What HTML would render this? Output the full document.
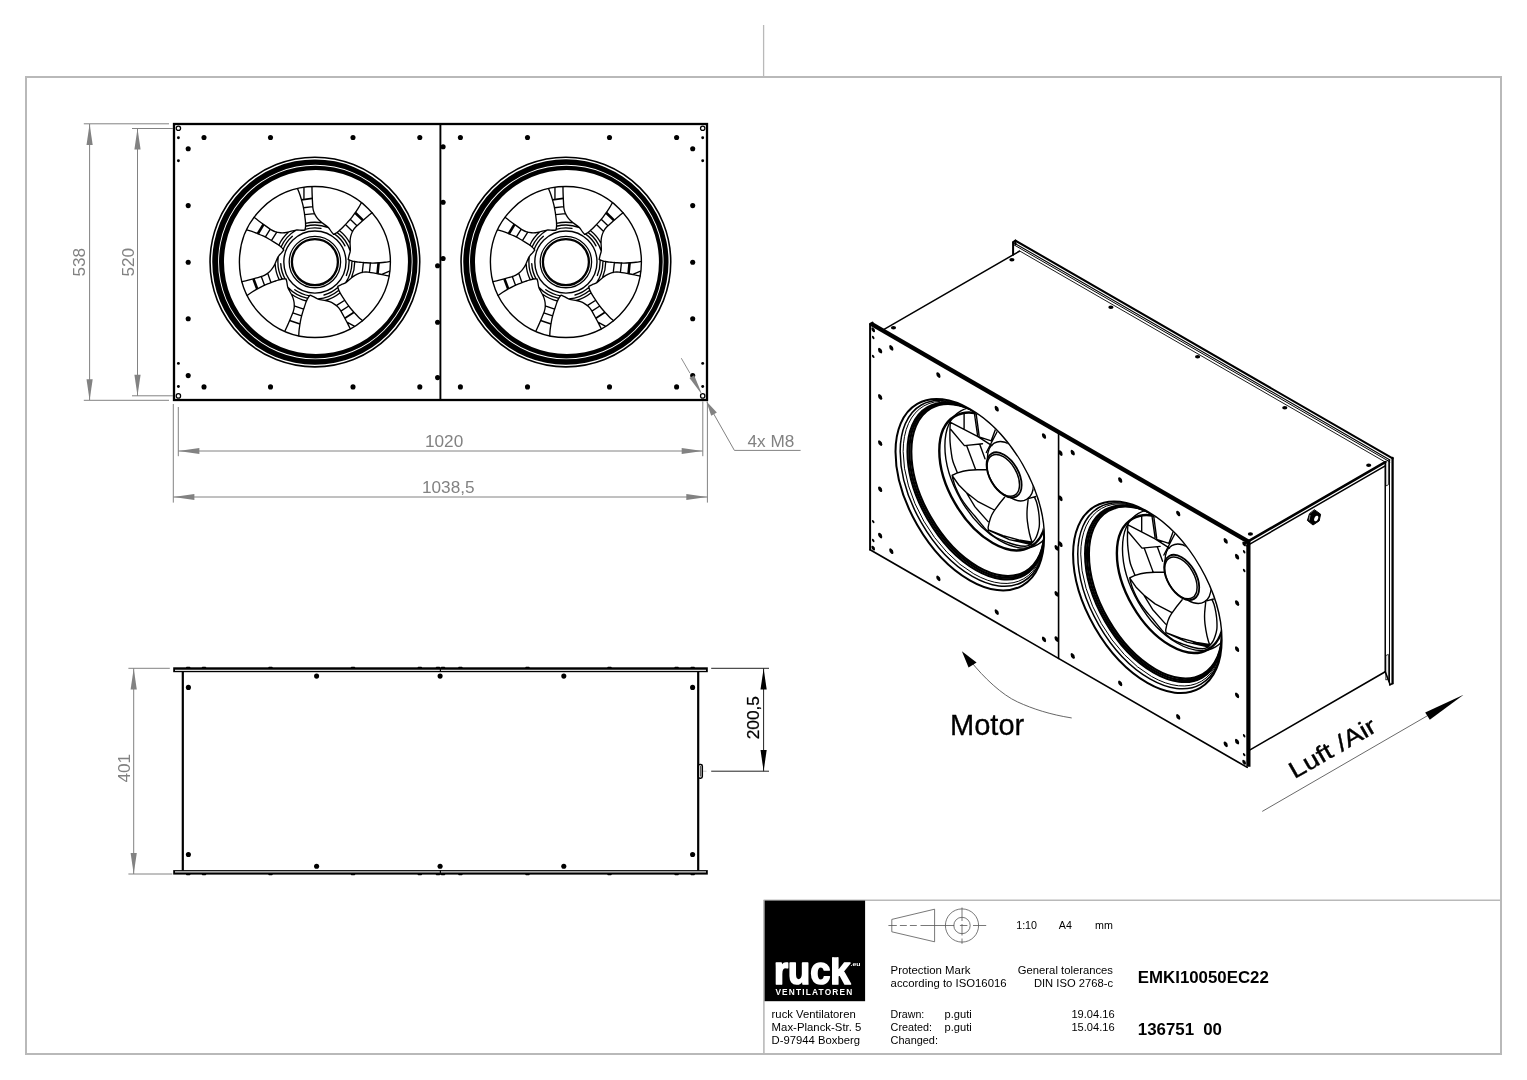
<!DOCTYPE html>
<html lang="de"><head><meta charset="utf-8"><title>EMKI10050EC22 - ruck Ventilatoren</title>
<style>
html,body{margin:0;padding:0;background:#fff;}
body{width:1527px;height:1080px;overflow:hidden;}
svg{display:block;will-change:transform;font-family:"Liberation Sans",sans-serif;}
</style></head><body>
<svg width="1527" height="1080" viewBox="0 0 1527 1080">
<rect width="1527" height="1080" fill="#fff"/>
<g id="frame">
<rect x="26" y="77" width="1475" height="977" fill="none" stroke="#b9b9b9" stroke-width="2"/>
<line x1="763.6" y1="25" x2="763.6" y2="77" stroke="#b9b9b9" stroke-width="1.3"/>
<line x1="763.6" y1="900.3" x2="1501" y2="900.3" stroke="#b9b9b9" stroke-width="1.6"/>
<line x1="763.9" y1="900" x2="763.9" y2="1054" stroke="#b9b9b9" stroke-width="1.6"/>
</g>
<g id="titleblock">
<rect x="764.6" y="900.6" width="100.5" height="100.6" fill="#000"/>
<clipPath id="logoclip"><rect x="765" y="957.2" width="100" height="40"/></clipPath>
<text x="773.9" y="984.2" font-size="39.5" font-weight="bold" fill="#fff" stroke="#fff" stroke-width="1.7" stroke-linejoin="round" textLength="76.6" lengthAdjust="spacingAndGlyphs" clip-path="url(#logoclip)">ruck</text>
<text x="850.6" y="965.6" font-size="5.8" font-weight="bold" fill="#fff" textLength="10" lengthAdjust="spacingAndGlyphs">.eu</text>
<text x="775.4" y="995.3" font-size="8.3" font-weight="bold" fill="#fff" textLength="76.8" lengthAdjust="spacing">VENTILATOREN</text>
<text x="771.6" y="1017.5" font-size="11.1" fill="#000" text-anchor="start" font-weight="normal" textLength="84.1" lengthAdjust="spacingAndGlyphs">ruck Ventilatoren</text>
<text x="771.6" y="1030.9" font-size="11.1" fill="#000" text-anchor="start" font-weight="normal" textLength="89.8" lengthAdjust="spacingAndGlyphs">Max-Planck-Str. 5</text>
<text x="771.6" y="1044.3" font-size="11.1" fill="#000" text-anchor="start" font-weight="normal" textLength="88.5" lengthAdjust="spacingAndGlyphs">D-97944 Boxberg</text>
<text x="890.6" y="973.8" font-size="11.1" fill="#000" text-anchor="start" font-weight="normal" textLength="79.8" lengthAdjust="spacingAndGlyphs">Protection Mark</text>
<text x="890.6" y="987.1" font-size="11.1" fill="#000" text-anchor="start" font-weight="normal" textLength="116.0" lengthAdjust="spacingAndGlyphs">according to ISO16016</text>
<text x="1113" y="973.8" font-size="11.1" fill="#000" text-anchor="end" font-weight="normal" textLength="95.2" lengthAdjust="spacingAndGlyphs">General tolerances</text>
<text x="1113" y="987.1" font-size="11.1" fill="#000" text-anchor="end" font-weight="normal" textLength="79.1" lengthAdjust="spacingAndGlyphs">DIN ISO 2768-c</text>
<text x="890.6" y="1017.5" font-size="11.1" fill="#000" text-anchor="start" font-weight="normal" textLength="33.7" lengthAdjust="spacingAndGlyphs">Drawn:</text>
<text x="890.6" y="1030.9" font-size="11.1" fill="#000" text-anchor="start" font-weight="normal" textLength="41.4" lengthAdjust="spacingAndGlyphs">Created:</text>
<text x="890.6" y="1044.3" font-size="11.1" fill="#000" text-anchor="start" font-weight="normal" textLength="47.4" lengthAdjust="spacingAndGlyphs">Changed:</text>
<text x="944.6" y="1017.5" font-size="11.1" fill="#000" text-anchor="start" font-weight="normal">p.guti</text>
<text x="944.6" y="1030.9" font-size="11.1" fill="#000" text-anchor="start" font-weight="normal">p.guti</text>
<text x="1114.6" y="1017.5" font-size="11.1" fill="#000" text-anchor="end" font-weight="normal">19.04.16</text>
<text x="1114.6" y="1030.9" font-size="11.1" fill="#000" text-anchor="end" font-weight="normal">15.04.16</text>
<text x="1016.2" y="928.9" font-size="10.7" fill="#000" text-anchor="start" font-weight="normal">1:10</text>
<text x="1058.8" y="928.9" font-size="10.7" fill="#000" text-anchor="start" font-weight="normal">A4</text>
<text x="1095" y="928.9" font-size="10.7" fill="#000" text-anchor="start" font-weight="normal">mm</text>
<text x="1137.8" y="983.1" font-size="16.9" fill="#000" text-anchor="start" font-weight="bold" textLength="131.0" lengthAdjust="spacingAndGlyphs">EMKI10050EC22</text>
<text x="1137.8" y="1035" font-size="16.9" fill="#000" text-anchor="start" font-weight="bold">136751</text>
<text x="1203.2" y="1035" font-size="16.9" fill="#000" text-anchor="start" font-weight="bold">00</text>
<path d="M891.8 919.4L934.6 909.2L934.6 941.8L891.8 931.8Z" fill="none" stroke="#555" stroke-width="0.8"/>
<line x1="888.4" y1="925.5" x2="986.3" y2="925.5" stroke="#555" stroke-width="0.8" stroke-dasharray="8.4 3.1 6.9 3.1 6.9 3.7 33.8 5.6 7.5 5.6 13.2"/>
<circle cx="962" cy="925.5" r="16.6" fill="none" stroke="#555" stroke-width="0.8"/>
<circle cx="962" cy="925.5" r="8.2" fill="none" stroke="#555" stroke-width="0.8"/>
<line x1="962" y1="907.5" x2="962" y2="943.8" stroke="#555" stroke-width="0.8" stroke-dasharray="13.5 3 11.5 3 5.3"/>
</g>
<g id="frontview">
<rect x="174" y="124" width="533" height="276" fill="none" stroke="#000" stroke-width="2.3"/>
<line x1="440.4" y1="124" x2="440.4" y2="400" stroke="#000" stroke-width="1.9"/>
<g>
<circle cx="314.9" cy="262.05" r="104.85" fill="none" stroke="#000" stroke-width="1.6"/>
<path d="M212.25 262.05A102.65 102.65 0 1 0 417.55 262.05A102.65 102.65 0 1 0 212.25 262.05ZM218.1 262.05A97.25 97.25 0 1 0 412.6 262.05A97.25 97.25 0 1 0 218.1 262.05Z" fill="#000" fill-rule="evenodd"/>
<path d="M219 262.05A96.35 96.35 0 1 0 411.7 262.05A96.35 96.35 0 1 0 219 262.05ZM223.99 262.05A91.98 91.98 0 1 0 407.95 262.05A91.98 91.98 0 1 0 223.99 262.05Z" fill="#000" fill-rule="evenodd"/>
<circle cx="314.9" cy="262.05" r="75.5" fill="none" stroke="#000" stroke-width="1.4"/>
<circle cx="314.9" cy="262.05" r="31.1" fill="none" stroke="#000" stroke-width="1.4"/>
<circle cx="314.9" cy="262.05" r="25.7" fill="none" stroke="#000" stroke-width="1.3"/>
<circle cx="314.9" cy="262.05" r="23" fill="none" stroke="#000" stroke-width="2.3"/>
<path d="M390.4 261.39C389.48 261.54 386.65 262.07 384.9 262.29C383.15 262.52 381.9 262.6 379.9 262.73C377.9 262.86 375.22 263.06 372.89 263.06C370.56 263.07 368.06 262.9 365.9 262.76C363.73 262.62 361.57 262.37 359.9 262.21C358.23 262.04 357.32 262 355.9 261.76C354.48 261.53 352.66 261.17 351.38 260.78C350.09 260.38 348.72 259.61 348.19 259.37M348.19 259.37C348.32 258.79 348.59 257.31 348.94 255.86C349.3 254.41 350.13 252.79 350.32 250.68C350.51 248.57 350.08 245.14 350.06 243.2C350.05 241.25 350.09 240.35 350.25 239C350.42 237.65 350.6 236.51 351.06 235.1C351.52 233.68 352.23 231.89 353.04 230.5C353.85 229.11 354.22 228.49 355.92 226.77C357.61 225.06 361.22 221.97 363.2 220.21C365.18 218.45 366.33 217.47 367.81 216.22C369.29 214.97 371.35 213.3 372.05 212.72M349.02 259.71 A34.2 34.2 0 0 1 346.36 275.45M351.88 260.87 A37 37 0 0 1 345.5 282.85M354.7 261.48 A39.8 39.8 0 0 1 351.37 277.99M363.4 262.52L362.25 272.54M370.39 262.95L369.44 272.35M381.85 274.49L389.54 271.21M362.49 320.67C361.8 320.04 359.62 318.16 358.35 316.93C357.09 315.7 356.24 314.78 354.89 313.29C353.54 311.81 351.72 309.84 350.27 308.02C348.81 306.2 347.38 304.15 346.14 302.36C344.9 300.58 343.74 298.74 342.83 297.33C341.93 295.92 341.39 295.18 340.69 293.93C339.99 292.67 339.13 291.03 338.64 289.78C338.15 288.52 337.9 286.97 337.75 286.41M337.75 286.41C338.29 286.14 339.61 285.43 340.96 284.81C342.32 284.18 344.11 283.82 345.87 282.65C347.64 281.48 350.05 279.01 351.57 277.79C353.08 276.56 353.8 276.03 354.96 275.32C356.12 274.61 357.12 274.04 358.52 273.52C359.92 273 361.76 272.43 363.35 272.2C364.94 271.96 365.66 271.87 368.05 272.12C370.45 272.38 375.11 273.27 377.72 273.73C380.34 274.18 381.82 274.47 383.72 274.84C385.62 275.22 388.21 275.79 389.1 275.98M338.01 287.26 A34.2 34.2 0 0 1 324.04 295.01M338.88 290.23 A37 37 0 0 1 317.72 298.94M340.16 292.81 A39.8 39.8 0 0 1 325.17 300.5M344.77 300.26L336.22 305.61M348.8 306L340.85 311.11M346.92 322.15L354.27 326.12M298.74 335.8C298.8 334.87 298.91 332 299.09 330.24C299.26 328.48 299.45 327.25 299.77 325.27C300.09 323.29 300.49 320.64 301.01 318.36C301.52 316.09 302.24 313.69 302.86 311.61C303.48 309.53 304.2 307.47 304.73 305.89C305.27 304.3 305.51 303.42 306.06 302.08C306.6 300.75 307.35 299.06 308.02 297.9C308.7 296.73 309.76 295.57 310.1 295.1M310.1 295.1C310.65 295.36 312.02 295.95 313.36 296.62C314.69 297.28 316.09 298.46 318.11 299.11C320.12 299.76 323.56 300.11 325.46 300.53C327.36 300.95 328.22 301.18 329.5 301.64C330.78 302.11 331.85 302.53 333.13 303.3C334.41 304.07 336 305.16 337.17 306.26C338.35 307.35 338.87 307.85 340.17 309.89C341.46 311.92 343.67 316.12 344.94 318.45C346.22 320.77 346.92 322.12 347.81 323.83C348.7 325.55 349.87 327.93 350.28 328.75M309.59 295.84 A34.2 34.2 0 0 1 294.83 289.74M307.82 298.37 A37 37 0 0 1 287.81 287.25M306.6 300.98 A39.8 39.8 0 0 1 291.24 294.06M303.65 309.23L294.14 305.88M301.67 315.95L292.72 312.92M247.17 295.4C247.93 294.87 250.25 293.16 251.73 292.2C253.21 291.24 254.3 290.62 256.04 289.64C257.79 288.65 260.11 287.32 262.21 286.3C264.31 285.28 266.63 284.35 268.65 283.53C270.66 282.72 272.72 282.01 274.29 281.43C275.86 280.86 276.7 280.5 278.09 280.1C279.47 279.7 281.26 279.22 282.59 279.02C283.92 278.83 285.49 278.93 286.07 278.91M286.07 278.91C286.21 279.49 286.6 280.94 286.91 282.39C287.22 283.85 287.17 285.68 287.92 287.66C288.67 289.65 290.54 292.55 291.4 294.29C292.25 296.04 292.61 296.86 293.05 298.15C293.48 299.44 293.82 300.54 294.02 302.02C294.21 303.5 294.35 305.43 294.23 307.03C294.1 308.63 294.04 309.35 293.25 311.63C292.47 313.91 290.56 318.26 289.54 320.7C288.51 323.15 287.9 324.53 287.12 326.3C286.33 328.07 285.2 330.46 284.81 331.3M285.18 278.97 A34.2 34.2 0 0 1 280.74 263.63M282.09 279.16 A37 37 0 0 1 278.31 256.59M279.29 279.83 A39.8 39.8 0 0 1 275.13 263.51M271 282.67L267.69 273.15M264.51 285.32L261.29 276.43M246.59 229.89C247.48 230.15 250.26 230.9 251.94 231.46C253.61 232.02 254.78 232.48 256.64 233.24C258.49 233.99 260.99 234.97 263.09 235.98C265.2 236.98 267.38 238.21 269.26 239.28C271.15 240.35 273 241.51 274.42 242.38C275.85 243.26 276.66 243.69 277.84 244.52C279.01 245.35 280.5 246.45 281.48 247.37C282.47 248.29 283.37 249.58 283.74 250.02M283.74 250.02C283.38 250.49 282.49 251.7 281.54 252.85C280.6 254.01 279.14 255.11 278.05 256.93C276.97 258.75 275.87 262.02 275.04 263.78C274.2 265.54 273.79 266.33 273.05 267.47C272.31 268.62 271.66 269.57 270.63 270.64C269.59 271.72 268.18 273.03 266.85 273.93C265.52 274.83 264.91 275.23 262.64 276.04C260.37 276.85 255.78 278.06 253.23 278.79C250.68 279.51 249.22 279.9 247.34 280.39C245.47 280.87 242.89 281.48 242 281.7M283.14 249.36 A34.2 34.2 0 0 1 292.37 236.32M281.07 247.06 A37 37 0 0 1 296.36 230.03M278.8 245.3 A39.8 39.8 0 0 1 288.96 231.86M271.41 240.59L276.79 232.06M265.29 237.16L270.24 229.1M297.46 188.59C297.81 189.45 298.95 192.09 299.56 193.75C300.17 195.41 300.53 196.61 301.1 198.53C301.67 200.45 302.46 203.01 302.98 205.29C303.51 207.56 303.9 210.03 304.25 212.18C304.59 214.32 304.83 216.48 305.04 218.14C305.25 219.8 305.41 220.7 305.5 222.14C305.58 223.58 305.64 225.43 305.54 226.77C305.44 228.11 304.99 229.62 304.88 230.19M304.88 230.19C304.28 230.2 302.78 230.26 301.29 230.24C299.8 230.21 298.03 229.76 295.93 230.05C293.83 230.34 290.59 231.52 288.69 231.96C286.8 232.41 285.92 232.57 284.57 232.71C283.21 232.85 282.06 232.93 280.58 232.79C279.09 232.66 277.18 232.37 275.65 231.89C274.12 231.41 273.43 231.18 271.38 229.91C269.33 228.64 265.52 225.81 263.36 224.27C261.21 222.73 259.99 221.83 258.44 220.67C256.9 219.5 254.81 217.87 254.09 217.31M305.02 229.31 A34.2 34.2 0 0 1 320.96 228.39M305.52 226.26 A37 37 0 0 1 328.37 227.59M305.48 223.38 A39.8 39.8 0 0 1 322.33 222.95M304.56 214.66L314.59 213.55M303.43 207.75L312.81 206.59M303.96 187.55L303.95 198.38M361.46 202.61C361 203.42 359.65 205.97 358.74 207.47C357.82 208.98 357.1 210.01 355.96 211.66C354.81 213.3 353.3 215.51 351.85 217.34C350.4 219.17 348.71 221.02 347.25 222.62C345.79 224.23 344.25 225.77 343.08 226.97C341.91 228.16 341.31 228.86 340.24 229.82C339.17 230.78 337.76 231.98 336.65 232.74C335.54 233.49 334.08 234.08 333.56 234.35M333.56 234.35C333.18 233.89 332.2 232.76 331.29 231.58C330.38 230.4 329.63 228.73 328.09 227.27C326.56 225.81 323.61 224.01 322.08 222.8C320.55 221.6 319.88 221.01 318.92 220.04C317.97 219.07 317.19 218.22 316.37 216.97C315.55 215.73 314.59 214.06 314.01 212.56C313.43 211.06 313.18 210.38 312.89 207.99C312.61 205.59 312.44 200.85 312.3 198.2C312.16 195.56 312.11 194.04 312.06 192.11C312 190.18 311.98 187.52 311.96 186.61M334.34 233.91 A34.2 34.2 0 0 1 345 245.81M337.04 232.4 A37 37 0 0 1 350.24 251.09M339.26 230.58 A39.8 39.8 0 0 1 350.1 243.48M345.5 224.42L352.62 231.57M350.2 219.22L356.96 225.84" fill="none" stroke="#000" stroke-width="1.35" stroke-linejoin="round" stroke-linecap="round"/>
<path d="M378.6 262.8L377.53 273.69" fill="none" stroke="#000" stroke-width="2.6"/>
<path d="M354.03 312.32L344.84 318.27" fill="none" stroke="#000" stroke-width="1.8"/>
<path d="M300 323.98L289.61 320.52" fill="none" stroke="#000" stroke-width="1.4"/>
<path d="M257.19 289.01L253.42 278.73" fill="none" stroke="#000" stroke-width="2.6"/>
<path d="M257.84 233.74L263.53 224.39" fill="none" stroke="#000" stroke-width="2.6"/>
<path d="M301.46 199.78L312.32 198.4" fill="none" stroke="#000" stroke-width="1.8"/>
<path d="M355.2 212.72L363.05 220.35" fill="none" stroke="#000" stroke-width="2.6"/>
</g>
<g>
<circle cx="565.9" cy="262.05" r="104.85" fill="none" stroke="#000" stroke-width="1.6"/>
<path d="M463.25 262.05A102.65 102.65 0 1 0 668.55 262.05A102.65 102.65 0 1 0 463.25 262.05ZM469.1 262.05A97.25 97.25 0 1 0 663.6 262.05A97.25 97.25 0 1 0 469.1 262.05Z" fill="#000" fill-rule="evenodd"/>
<path d="M470 262.05A96.35 96.35 0 1 0 662.7 262.05A96.35 96.35 0 1 0 470 262.05ZM474.99 262.05A91.98 91.98 0 1 0 658.95 262.05A91.98 91.98 0 1 0 474.99 262.05Z" fill="#000" fill-rule="evenodd"/>
<circle cx="565.9" cy="262.05" r="75.5" fill="none" stroke="#000" stroke-width="1.4"/>
<circle cx="565.9" cy="262.05" r="31.1" fill="none" stroke="#000" stroke-width="1.4"/>
<circle cx="565.9" cy="262.05" r="25.7" fill="none" stroke="#000" stroke-width="1.3"/>
<circle cx="565.9" cy="262.05" r="23" fill="none" stroke="#000" stroke-width="2.3"/>
<path d="M641.4 261.39C640.48 261.54 637.65 262.07 635.9 262.29C634.15 262.52 632.9 262.6 630.9 262.73C628.9 262.86 626.22 263.06 623.89 263.06C621.56 263.07 619.06 262.9 616.9 262.76C614.73 262.62 612.57 262.37 610.9 262.21C609.23 262.04 608.32 262 606.9 261.76C605.48 261.53 603.66 261.17 602.38 260.78C601.09 260.38 599.72 259.61 599.19 259.37M599.19 259.37C599.32 258.79 599.59 257.31 599.94 255.86C600.3 254.41 601.13 252.79 601.32 250.68C601.51 248.57 601.08 245.14 601.06 243.2C601.05 241.25 601.09 240.35 601.25 239C601.42 237.65 601.6 236.51 602.06 235.1C602.52 233.68 603.23 231.89 604.04 230.5C604.85 229.11 605.22 228.49 606.92 226.77C608.61 225.06 612.22 221.97 614.2 220.21C616.18 218.45 617.33 217.47 618.81 216.22C620.29 214.97 622.35 213.3 623.05 212.72M600.02 259.71 A34.2 34.2 0 0 1 597.36 275.45M602.88 260.87 A37 37 0 0 1 596.5 282.85M605.7 261.48 A39.8 39.8 0 0 1 602.37 277.99M614.4 262.52L613.25 272.54M621.39 262.95L620.44 272.35M632.85 274.49L640.54 271.21M613.49 320.67C612.8 320.04 610.62 318.16 609.35 316.93C608.09 315.7 607.24 314.78 605.89 313.29C604.54 311.81 602.72 309.84 601.27 308.02C599.81 306.2 598.38 304.15 597.14 302.36C595.9 300.58 594.74 298.74 593.83 297.33C592.93 295.92 592.39 295.18 591.69 293.93C590.99 292.67 590.13 291.03 589.64 289.78C589.15 288.52 588.9 286.97 588.75 286.41M588.75 286.41C589.29 286.14 590.61 285.43 591.96 284.81C593.32 284.18 595.11 283.82 596.87 282.65C598.64 281.48 601.05 279.01 602.57 277.79C604.08 276.56 604.8 276.03 605.96 275.32C607.12 274.61 608.12 274.04 609.52 273.52C610.92 273 612.76 272.43 614.35 272.2C615.94 271.96 616.66 271.87 619.05 272.12C621.45 272.38 626.11 273.27 628.72 273.73C631.34 274.18 632.82 274.47 634.72 274.84C636.62 275.22 639.21 275.79 640.1 275.98M589.01 287.26 A34.2 34.2 0 0 1 575.04 295.01M589.88 290.23 A37 37 0 0 1 568.72 298.94M591.16 292.81 A39.8 39.8 0 0 1 576.17 300.5M595.77 300.26L587.22 305.61M599.8 306L591.85 311.11M597.92 322.15L605.27 326.12M549.74 335.8C549.8 334.87 549.91 332 550.09 330.24C550.26 328.48 550.45 327.25 550.77 325.27C551.09 323.29 551.49 320.64 552.01 318.36C552.52 316.09 553.24 313.69 553.86 311.61C554.48 309.53 555.2 307.47 555.73 305.89C556.27 304.3 556.51 303.42 557.06 302.08C557.6 300.75 558.35 299.06 559.02 297.9C559.7 296.73 560.76 295.57 561.1 295.1M561.1 295.1C561.65 295.36 563.02 295.95 564.36 296.62C565.69 297.28 567.09 298.46 569.11 299.11C571.12 299.76 574.56 300.11 576.46 300.53C578.36 300.95 579.22 301.18 580.5 301.64C581.78 302.11 582.85 302.53 584.13 303.3C585.41 304.07 587 305.16 588.17 306.26C589.35 307.35 589.87 307.85 591.17 309.89C592.46 311.92 594.67 316.12 595.94 318.45C597.22 320.77 597.92 322.12 598.81 323.83C599.7 325.55 600.87 327.93 601.28 328.75M560.59 295.84 A34.2 34.2 0 0 1 545.83 289.74M558.82 298.37 A37 37 0 0 1 538.81 287.25M557.6 300.98 A39.8 39.8 0 0 1 542.24 294.06M554.65 309.23L545.14 305.88M552.67 315.95L543.72 312.92M498.17 295.4C498.93 294.87 501.25 293.16 502.73 292.2C504.21 291.24 505.3 290.62 507.04 289.64C508.79 288.65 511.11 287.32 513.21 286.3C515.31 285.28 517.63 284.35 519.65 283.53C521.66 282.72 523.72 282.01 525.29 281.43C526.86 280.86 527.7 280.5 529.09 280.1C530.47 279.7 532.26 279.22 533.59 279.02C534.92 278.83 536.49 278.93 537.07 278.91M537.07 278.91C537.21 279.49 537.6 280.94 537.91 282.39C538.22 283.85 538.17 285.68 538.92 287.66C539.67 289.65 541.54 292.55 542.4 294.29C543.25 296.04 543.61 296.86 544.05 298.15C544.48 299.44 544.82 300.54 545.02 302.02C545.21 303.5 545.35 305.43 545.23 307.03C545.1 308.63 545.04 309.35 544.25 311.63C543.47 313.91 541.56 318.26 540.54 320.7C539.51 323.15 538.9 324.53 538.12 326.3C537.33 328.07 536.2 330.46 535.81 331.3M536.18 278.97 A34.2 34.2 0 0 1 531.74 263.63M533.09 279.16 A37 37 0 0 1 529.31 256.59M530.29 279.83 A39.8 39.8 0 0 1 526.13 263.51M522 282.67L518.69 273.15M515.51 285.32L512.29 276.43M497.59 229.89C498.48 230.15 501.26 230.9 502.94 231.46C504.61 232.02 505.78 232.48 507.64 233.24C509.49 233.99 511.99 234.97 514.09 235.98C516.2 236.98 518.38 238.21 520.26 239.28C522.15 240.35 524 241.51 525.42 242.38C526.85 243.26 527.66 243.69 528.84 244.52C530.01 245.35 531.5 246.45 532.48 247.37C533.47 248.29 534.37 249.58 534.74 250.02M534.74 250.02C534.38 250.49 533.49 251.7 532.54 252.85C531.6 254.01 530.14 255.11 529.05 256.93C527.97 258.75 526.87 262.02 526.04 263.78C525.2 265.54 524.79 266.33 524.05 267.47C523.31 268.62 522.66 269.57 521.63 270.64C520.59 271.72 519.18 273.03 517.85 273.93C516.52 274.83 515.91 275.23 513.64 276.04C511.37 276.85 506.78 278.06 504.23 278.79C501.68 279.51 500.22 279.9 498.34 280.39C496.47 280.87 493.89 281.48 493 281.7M534.14 249.36 A34.2 34.2 0 0 1 543.37 236.32M532.07 247.06 A37 37 0 0 1 547.36 230.03M529.8 245.3 A39.8 39.8 0 0 1 539.96 231.86M522.41 240.59L527.79 232.06M516.29 237.16L521.24 229.1M548.46 188.59C548.81 189.45 549.95 192.09 550.56 193.75C551.17 195.41 551.53 196.61 552.1 198.53C552.67 200.45 553.46 203.01 553.98 205.29C554.51 207.56 554.9 210.03 555.25 212.18C555.59 214.32 555.83 216.48 556.04 218.14C556.25 219.8 556.41 220.7 556.5 222.14C556.58 223.58 556.64 225.43 556.54 226.77C556.44 228.11 555.99 229.62 555.88 230.19M555.88 230.19C555.28 230.2 553.78 230.26 552.29 230.24C550.8 230.21 549.03 229.76 546.93 230.05C544.83 230.34 541.59 231.52 539.69 231.96C537.8 232.41 536.92 232.57 535.57 232.71C534.21 232.85 533.06 232.93 531.58 232.79C530.09 232.66 528.18 232.37 526.65 231.89C525.12 231.41 524.43 231.18 522.38 229.91C520.33 228.64 516.52 225.81 514.36 224.27C512.21 222.73 510.99 221.83 509.44 220.67C507.9 219.5 505.81 217.87 505.09 217.31M556.02 229.31 A34.2 34.2 0 0 1 571.96 228.39M556.52 226.26 A37 37 0 0 1 579.37 227.59M556.48 223.38 A39.8 39.8 0 0 1 573.33 222.95M555.56 214.66L565.59 213.55M554.43 207.75L563.81 206.59M554.96 187.55L554.95 198.38M612.46 202.61C612 203.42 610.65 205.97 609.74 207.47C608.82 208.98 608.1 210.01 606.96 211.66C605.81 213.3 604.3 215.51 602.85 217.34C601.4 219.17 599.71 221.02 598.25 222.62C596.79 224.23 595.25 225.77 594.08 226.97C592.91 228.16 592.31 228.86 591.24 229.82C590.17 230.78 588.76 231.98 587.65 232.74C586.54 233.49 585.08 234.08 584.56 234.35M584.56 234.35C584.18 233.89 583.2 232.76 582.29 231.58C581.38 230.4 580.63 228.73 579.09 227.27C577.56 225.81 574.61 224.01 573.08 222.8C571.55 221.6 570.88 221.01 569.92 220.04C568.97 219.07 568.19 218.22 567.37 216.97C566.55 215.73 565.59 214.06 565.01 212.56C564.43 211.06 564.18 210.38 563.89 207.99C563.61 205.59 563.44 200.85 563.3 198.2C563.16 195.56 563.11 194.04 563.06 192.11C563 190.18 562.98 187.52 562.96 186.61M585.34 233.91 A34.2 34.2 0 0 1 596 245.81M588.04 232.4 A37 37 0 0 1 601.24 251.09M590.26 230.58 A39.8 39.8 0 0 1 601.1 243.48M596.5 224.42L603.62 231.57M601.2 219.22L607.96 225.84" fill="none" stroke="#000" stroke-width="1.35" stroke-linejoin="round" stroke-linecap="round"/>
<path d="M629.6 262.8L628.53 273.69" fill="none" stroke="#000" stroke-width="2.6"/>
<path d="M605.03 312.32L595.84 318.27" fill="none" stroke="#000" stroke-width="1.8"/>
<path d="M551 323.98L540.61 320.52" fill="none" stroke="#000" stroke-width="1.4"/>
<path d="M508.19 289.01L504.42 278.73" fill="none" stroke="#000" stroke-width="2.6"/>
<path d="M508.84 233.74L514.53 224.39" fill="none" stroke="#000" stroke-width="2.6"/>
<path d="M552.46 199.78L563.32 198.4" fill="none" stroke="#000" stroke-width="1.8"/>
<path d="M606.2 212.72L614.05 220.35" fill="none" stroke="#000" stroke-width="2.6"/>
</g>
<circle cx="204" cy="137.5" r="2.55" fill="#000"/>
<circle cx="270.5" cy="137.5" r="2.55" fill="#000"/>
<circle cx="353" cy="137.5" r="2.55" fill="#000"/>
<circle cx="419.8" cy="137.5" r="2.55" fill="#000"/>
<circle cx="460.4" cy="137.5" r="2.55" fill="#000"/>
<circle cx="527.5" cy="137.5" r="2.55" fill="#000"/>
<circle cx="609.5" cy="137.5" r="2.55" fill="#000"/>
<circle cx="676.6" cy="137.5" r="2.55" fill="#000"/>
<circle cx="204" cy="386.9" r="2.55" fill="#000"/>
<circle cx="270.5" cy="386.9" r="2.55" fill="#000"/>
<circle cx="353" cy="386.9" r="2.55" fill="#000"/>
<circle cx="419.8" cy="386.9" r="2.55" fill="#000"/>
<circle cx="460.4" cy="386.9" r="2.55" fill="#000"/>
<circle cx="527.5" cy="386.9" r="2.55" fill="#000"/>
<circle cx="609.5" cy="386.9" r="2.55" fill="#000"/>
<circle cx="676.6" cy="386.9" r="2.55" fill="#000"/>
<circle cx="188.2" cy="148.8" r="2.55" fill="#000"/>
<circle cx="188.2" cy="205.6" r="2.55" fill="#000"/>
<circle cx="188.2" cy="262.2" r="2.55" fill="#000"/>
<circle cx="188.2" cy="318.8" r="2.55" fill="#000"/>
<circle cx="188.2" cy="375.6" r="2.55" fill="#000"/>
<circle cx="692.7" cy="148.8" r="2.55" fill="#000"/>
<circle cx="692.7" cy="205.6" r="2.55" fill="#000"/>
<circle cx="692.7" cy="262.2" r="2.55" fill="#000"/>
<circle cx="692.7" cy="318.8" r="2.55" fill="#000"/>
<circle cx="692.7" cy="375.6" r="2.55" fill="#000"/>
<circle cx="443.1" cy="146.7" r="2.55" fill="#000"/>
<circle cx="443.1" cy="202.2" r="2.55" fill="#000"/>
<circle cx="443.1" cy="258.5" r="2.55" fill="#000"/>
<circle cx="437.6" cy="265.7" r="2.55" fill="#000"/>
<circle cx="437.6" cy="322.2" r="2.55" fill="#000"/>
<circle cx="437.6" cy="377.6" r="2.55" fill="#000"/>
<circle cx="178.4" cy="137.7" r="1.45" fill="#000"/>
<circle cx="178.4" cy="160.8" r="1.45" fill="#000"/>
<circle cx="178.4" cy="363.4" r="1.45" fill="#000"/>
<circle cx="178.4" cy="386.5" r="1.45" fill="#000"/>
<circle cx="178.4" cy="128.2" r="2.2" fill="#fff" stroke="#000" stroke-width="1.25"/>
<circle cx="178.4" cy="395.9" r="2.2" fill="#fff" stroke="#000" stroke-width="1.25"/>
<circle cx="702.7" cy="137.7" r="1.45" fill="#000"/>
<circle cx="702.7" cy="160.8" r="1.45" fill="#000"/>
<circle cx="702.7" cy="363.4" r="1.45" fill="#000"/>
<circle cx="702.7" cy="386.5" r="1.45" fill="#000"/>
<circle cx="702.7" cy="128.2" r="2.2" fill="#fff" stroke="#000" stroke-width="1.25"/>
<circle cx="702.7" cy="395.9" r="2.2" fill="#fff" stroke="#000" stroke-width="1.25"/>
</g>
<g id="frontdims">
<line x1="83.8" y1="123.8" x2="169" y2="123.8" stroke="#828282" stroke-width="1"/>
<line x1="83.8" y1="400.3" x2="169" y2="400.3" stroke="#828282" stroke-width="1"/>
<line x1="89.6" y1="124" x2="89.6" y2="400" stroke="#828282" stroke-width="1"/>
<polygon points="89.6,124 92.7,145 86.5,145" fill="#828282"/>
<polygon points="89.6,400.2 86.5,379.2 92.7,379.2" fill="#828282"/>
<line x1="132" y1="128.5" x2="173" y2="128.5" stroke="#828282" stroke-width="1"/>
<line x1="132" y1="395.8" x2="173" y2="395.8" stroke="#828282" stroke-width="1"/>
<line x1="137.5" y1="128.5" x2="137.5" y2="395.8" stroke="#828282" stroke-width="1"/>
<polygon points="137.5,128.6 140.6,149.6 134.4,149.6" fill="#828282"/>
<polygon points="137.5,395.7 134.4,374.7 140.6,374.7" fill="#828282"/>
<text transform="translate(85 262.2) rotate(-90)" font-size="17.2" fill="#828282" text-anchor="middle">538</text>
<text transform="translate(133.7 262.2) rotate(-90)" font-size="17.2" fill="#828282" text-anchor="middle">520</text>
<line x1="178.3" y1="407" x2="178.3" y2="456.2" stroke="#828282" stroke-width="1"/>
<line x1="702.8" y1="401.3" x2="702.8" y2="456.2" stroke="#828282" stroke-width="1"/>
<line x1="178.3" y1="451" x2="702.8" y2="451" stroke="#828282" stroke-width="1"/>
<polygon points="178.4,451 199.4,447.9 199.4,454.1" fill="#828282"/>
<polygon points="702.7,451 681.7,454.1 681.7,447.9" fill="#828282"/>
<text x="425" y="447" font-size="17.2" fill="#828282" text-anchor="start" font-weight="normal">1020</text>
<line x1="173.3" y1="404" x2="173.3" y2="502.6" stroke="#828282" stroke-width="1"/>
<line x1="707.4" y1="401.3" x2="707.4" y2="502.6" stroke="#828282" stroke-width="1"/>
<line x1="173.3" y1="497" x2="707.4" y2="497" stroke="#828282" stroke-width="1"/>
<polygon points="173.4,497 194.4,493.9 194.4,500.1" fill="#828282"/>
<polygon points="707.3,497 686.3,500.1 686.3,493.9" fill="#828282"/>
<text x="422" y="493" font-size="17.2" fill="#828282" text-anchor="start" font-weight="normal">1038,5</text>
<line x1="681.3" y1="358.2" x2="690" y2="373.3" stroke="#828282" stroke-width="0.9"/>
<polygon points="702.3,394.9 689.46,378.06 694.14,375.36" fill="#828282"/>
<polygon points="706.3,401.3 716.85,412.46 711.19,415.86" fill="#828282"/>
<path d="M713.5 413.5L734.4 450.4L800.6 450.4" fill="none" stroke="#828282" stroke-width="1"/>
<text x="747.5" y="446.5" font-size="17.2" fill="#828282" text-anchor="start" font-weight="normal">4x M8</text>
</g>
<g id="sideview">
<rect x="186" y="666.7" width="4.4" height="2" rx="0.8" fill="#000"/>
<rect x="186" y="873.3" width="4.4" height="2" rx="0.8" fill="#000"/>
<rect x="201.8" y="666.7" width="4.4" height="2" rx="0.8" fill="#000"/>
<rect x="201.8" y="873.3" width="4.4" height="2" rx="0.8" fill="#000"/>
<rect x="268.3" y="666.7" width="4.4" height="2" rx="0.8" fill="#000"/>
<rect x="268.3" y="873.3" width="4.4" height="2" rx="0.8" fill="#000"/>
<rect x="350.8" y="666.7" width="4.4" height="2" rx="0.8" fill="#000"/>
<rect x="350.8" y="873.3" width="4.4" height="2" rx="0.8" fill="#000"/>
<rect x="417.6" y="666.7" width="4.4" height="2" rx="0.8" fill="#000"/>
<rect x="417.6" y="873.3" width="4.4" height="2" rx="0.8" fill="#000"/>
<rect x="435.8" y="666.7" width="4.4" height="2" rx="0.8" fill="#000"/>
<rect x="435.8" y="873.3" width="4.4" height="2" rx="0.8" fill="#000"/>
<rect x="440.8" y="666.7" width="4.4" height="2" rx="0.8" fill="#000"/>
<rect x="440.8" y="873.3" width="4.4" height="2" rx="0.8" fill="#000"/>
<rect x="458.2" y="666.7" width="4.4" height="2" rx="0.8" fill="#000"/>
<rect x="458.2" y="873.3" width="4.4" height="2" rx="0.8" fill="#000"/>
<rect x="525.3" y="666.7" width="4.4" height="2" rx="0.8" fill="#000"/>
<rect x="525.3" y="873.3" width="4.4" height="2" rx="0.8" fill="#000"/>
<rect x="607.3" y="666.7" width="4.4" height="2" rx="0.8" fill="#000"/>
<rect x="607.3" y="873.3" width="4.4" height="2" rx="0.8" fill="#000"/>
<rect x="674.4" y="666.7" width="4.4" height="2" rx="0.8" fill="#000"/>
<rect x="674.4" y="873.3" width="4.4" height="2" rx="0.8" fill="#000"/>
<rect x="690.5" y="666.7" width="4.4" height="2" rx="0.8" fill="#000"/>
<rect x="690.5" y="873.3" width="4.4" height="2" rx="0.8" fill="#000"/>
<rect x="173.2" y="667.3" width="534.6" height="4.9" fill="#000"/>
<rect x="175.0" y="669.75" width="531" height="1.1" fill="#fff"/>
<rect x="173.2" y="870.1" width="534.6" height="4.5" fill="#000"/>
<rect x="175.0" y="871.35" width="531" height="1.1" fill="#fff"/>
<line x1="182.8" y1="672" x2="182.8" y2="870.6" stroke="#000" stroke-width="2.2"/>
<line x1="698.2" y1="672" x2="698.2" y2="870.6" stroke="#000" stroke-width="2.2"/>
<line x1="440.4" y1="668" x2="440.4" y2="672" stroke="#000" stroke-width="1.2"/>
<line x1="440.4" y1="870.6" x2="440.4" y2="874.6" stroke="#000" stroke-width="1.2"/>
<circle cx="316.6" cy="676.1" r="2.55" fill="#000"/>
<circle cx="316.6" cy="866.2" r="2.55" fill="#000"/>
<circle cx="440.1" cy="676.1" r="2.55" fill="#000"/>
<circle cx="440.1" cy="866.2" r="2.55" fill="#000"/>
<circle cx="563.8" cy="676.1" r="2.55" fill="#000"/>
<circle cx="563.8" cy="866.2" r="2.55" fill="#000"/>
<circle cx="188.4" cy="687.4" r="2.55" fill="#000"/>
<circle cx="188.4" cy="854.5" r="2.55" fill="#000"/>
<circle cx="692.6" cy="687.4" r="2.55" fill="#000"/>
<circle cx="692.6" cy="854.5" r="2.55" fill="#000"/>
<rect x="698.3" y="764.4" width="4" height="13.8" rx="1.6" fill="#fff" stroke="#000" stroke-width="1.5"/>
<line x1="700.3" y1="766" x2="700.3" y2="776.5" stroke="#000" stroke-width="0.8"/>
</g>
<g id="sidedims">
<line x1="128.4" y1="668.3" x2="169.8" y2="668.3" stroke="#828282" stroke-width="1"/>
<line x1="128.4" y1="874" x2="172.4" y2="874" stroke="#828282" stroke-width="1"/>
<line x1="133.7" y1="668.3" x2="133.7" y2="874" stroke="#828282" stroke-width="1"/>
<polygon points="133.7,668.4 136.8,689.4 130.6,689.4" fill="#828282"/>
<polygon points="133.7,873.9 130.6,852.9 136.8,852.9" fill="#828282"/>
<text transform="translate(130.2 768.2) rotate(-90)" font-size="17.2" fill="#828282" text-anchor="middle">401</text>
<line x1="711.2" y1="668.3" x2="769" y2="668.3" stroke="#222" stroke-width="1"/>
<line x1="711.2" y1="771.2" x2="769" y2="771.2" stroke="#222" stroke-width="1"/>
<line x1="703" y1="771.2" x2="706.5" y2="771.2" stroke="#bbb" stroke-width="0.8"/>
<line x1="763.6" y1="668.3" x2="763.6" y2="771.2" stroke="#222" stroke-width="1"/>
<polygon points="763.6,668.4 766.7,689.4 760.5,689.4" fill="#000"/>
<polygon points="763.6,771.1 760.5,750.1 766.7,750.1" fill="#000"/>
<text transform="translate(759.4 717.7) rotate(-90)" font-size="17.3" fill="#000" stroke="#000" stroke-width="0.25" text-anchor="middle">200,5</text>
</g>
<g id="iso" stroke-linecap="round">
<line x1="883.61" y1="329.61" x2="1019.31" y2="251.26" stroke="#000" stroke-width="1.5"/>
<line x1="1244.65" y1="543.38" x2="1385.23" y2="462.21" stroke="#000" stroke-width="2.6"/>
<line x1="1246.77" y1="545.83" x2="1385.23" y2="465.88" stroke="#000" stroke-width="1.5"/>
<line x1="1250.03" y1="749.84" x2="1385.23" y2="671.77" stroke="#000" stroke-width="1.6"/>
<line x1="1015.49" y1="240.65" x2="1392.59" y2="458.38" stroke="#000" stroke-width="2.1"/>
<line x1="1012.8" y1="242.21" x2="1389.9" y2="459.94" stroke="#000" stroke-width="1.1"/>
<line x1="1012.8" y1="244.16" x2="1389.9" y2="461.89" stroke="#000" stroke-width="1"/>
<line x1="1019.31" y1="250.77" x2="1385.23" y2="462.05" stroke="#000" stroke-width="0.9"/>
<path d="M1015.49 240.65L1013.09 242.04L1013.09 254.84" fill="none" stroke="#000" stroke-width="2" stroke-linejoin="round"/>
<line x1="1015.49" y1="240.65" x2="1015.49" y2="244.32" stroke="#000" stroke-width="2"/>
<line x1="1392.59" y1="457.98" x2="1392.59" y2="683.43" stroke="#000" stroke-width="2.3"/>
<line x1="1389.48" y1="460.18" x2="1389.48" y2="685.23" stroke="#000" stroke-width="1"/>
<line x1="1385.23" y1="462.54" x2="1385.23" y2="671.77" stroke="#000" stroke-width="1.5"/>
<path d="M1385.23 671.77L1390.18 684.82L1392.59 683.43" fill="none" stroke="#000" stroke-width="1.6" stroke-linejoin="round"/>
<path d="M1386.21 461.32L1388.41 460.32L1388.41 484.78L1386.21 485.78Z" fill="none" stroke="#000" stroke-width="0.8" stroke-linejoin="round"/>
<path d="M1386.21 655.38L1388.41 654.38L1388.41 678.85L1386.21 679.85Z" fill="none" stroke="#000" stroke-width="0.8" stroke-linejoin="round"/>
<line x1="870.1" y1="324.6" x2="870.1" y2="549.65" stroke="#000" stroke-width="2"/>
<line x1="870.1" y1="549.65" x2="1247.2" y2="767.38" stroke="#000" stroke-width="1.7"/>
<line x1="871.3" y1="323.91" x2="1248.4" y2="541.64" stroke="#000" stroke-width="4.4" stroke-linecap="butt"/>
<line x1="1248.4" y1="540.41" x2="1248.4" y2="766.69" stroke="#000" stroke-width="4.2" stroke-linecap="butt"/>
<line x1="870.1" y1="323.95" x2="872.51" y2="322.56" stroke="#000" stroke-width="2"/>
<line x1="1058.58" y1="433.42" x2="1058.58" y2="658.47" stroke="#000" stroke-width="1.6"/>
<g transform="matrix(0.7075,0.4085,0,0.8154,870.1,324.6)">
<circle cx="30" cy="13.5" r="3" fill="#000"/>
<circle cx="96.5" cy="13.5" r="3" fill="#000"/>
<circle cx="179" cy="13.5" r="3" fill="#000"/>
<circle cx="245.8" cy="13.5" r="3" fill="#000"/>
<circle cx="286.4" cy="13.5" r="3" fill="#000"/>
<circle cx="353.5" cy="13.5" r="3" fill="#000"/>
<circle cx="435.5" cy="13.5" r="3" fill="#000"/>
<circle cx="502.6" cy="13.5" r="3" fill="#000"/>
<circle cx="30" cy="262.9" r="3" fill="#000"/>
<circle cx="96.5" cy="262.9" r="3" fill="#000"/>
<circle cx="179" cy="262.9" r="3" fill="#000"/>
<circle cx="245.8" cy="262.9" r="3" fill="#000"/>
<circle cx="286.4" cy="262.9" r="3" fill="#000"/>
<circle cx="353.5" cy="262.9" r="3" fill="#000"/>
<circle cx="435.5" cy="262.9" r="3" fill="#000"/>
<circle cx="502.6" cy="262.9" r="3" fill="#000"/>
<circle cx="14.2" cy="24.8" r="3" fill="#000"/>
<circle cx="14.2" cy="81.6" r="3" fill="#000"/>
<circle cx="14.2" cy="138.2" r="3" fill="#000"/>
<circle cx="14.2" cy="194.8" r="3" fill="#000"/>
<circle cx="14.2" cy="251.6" r="3" fill="#000"/>
<circle cx="518.7" cy="24.8" r="3" fill="#000"/>
<circle cx="518.7" cy="81.6" r="3" fill="#000"/>
<circle cx="518.7" cy="138.2" r="3" fill="#000"/>
<circle cx="518.7" cy="194.8" r="3" fill="#000"/>
<circle cx="518.7" cy="251.6" r="3" fill="#000"/>
<circle cx="269.1" cy="22.7" r="3" fill="#000"/>
<circle cx="269.1" cy="78.2" r="3" fill="#000"/>
<circle cx="269.1" cy="134.5" r="3" fill="#000"/>
<circle cx="263.6" cy="141.7" r="3" fill="#000"/>
<circle cx="263.6" cy="198.2" r="3" fill="#000"/>
<circle cx="263.6" cy="253.6" r="3" fill="#000"/>
<circle cx="4.4" cy="13.7" r="1.8" fill="#000"/>
<circle cx="4.4" cy="36.8" r="1.8" fill="#000"/>
<circle cx="4.4" cy="239.4" r="1.8" fill="#000"/>
<circle cx="4.4" cy="262.5" r="1.8" fill="#000"/>
<circle cx="4.4" cy="4.2" r="2.6" fill="#000"/>
<circle cx="4.4" cy="271.9" r="2.6" fill="#000"/>
<circle cx="528.7" cy="13.7" r="1.8" fill="#000"/>
<circle cx="528.7" cy="36.8" r="1.8" fill="#000"/>
<circle cx="528.7" cy="239.4" r="1.8" fill="#000"/>
<circle cx="528.7" cy="262.5" r="1.8" fill="#000"/>
<circle cx="528.7" cy="4.2" r="2.6" fill="#000"/>
<circle cx="528.7" cy="271.9" r="2.6" fill="#000"/>
</g>
<ellipse cx="893.5" cy="327.8" rx="2.6" ry="1.8" fill="#000"/>
<ellipse cx="1250.4" cy="534" rx="2.6" ry="1.8" fill="#000"/>
<ellipse cx="1011.9" cy="259.8" rx="2.6" ry="1.8" fill="#000"/>
<ellipse cx="1110.9" cy="307.3" rx="2.6" ry="1.8" fill="#000"/>
<ellipse cx="1197.6" cy="356.7" rx="2.6" ry="1.8" fill="#000"/>
<ellipse cx="1284.8" cy="407.7" rx="2.6" ry="1.8" fill="#000"/>
<ellipse cx="1368.7" cy="465.2" rx="2.6" ry="1.8" fill="#000"/>
<path d="M1314.7 509.9L1320.6 514.2L1319.2 520.9L1313 525L1307.4 520.5L1309.4 514Z" fill="#000" stroke="#000" stroke-width="1" stroke-linejoin="round"/>
<ellipse cx="1316.2" cy="518.5" rx="1.8" ry="2.9" fill="#fff" transform="rotate(24 1316.2 518.5)"/>
<line x1="1310" y1="515.4" x2="1309.2" y2="520" stroke="#fff" stroke-width="0.55"/>
<clipPath id="rim1"><circle r="104.5" transform="matrix(0.7075,0.4085,0,0.8154,969.79,494.72)"/></clipPath>
<clipPath id="inl1"><circle r="75.5" transform="matrix(0.7075,0.4085,0,0.8154,992.71,481.49)"/></clipPath>
<circle r="105" transform="matrix(0.7075,0.4085,0,0.8154,969.79,494.72)" fill="#fff" stroke="#000" stroke-width="2" vector-effect="non-scaling-stroke"/>
<g clip-path="url(#rim1)">
<circle r="102" transform="matrix(0.7075,0.4085,0,0.8154,972.33,493.25)" fill="none" stroke="#000" stroke-width="1.5" vector-effect="non-scaling-stroke"/>
<circle r="99.9" transform="matrix(0.7075,0.4085,0,0.8154,973.82,492.4)" fill="none" stroke="#000" stroke-width="1" vector-effect="non-scaling-stroke"/>
<circle r="96.9" transform="matrix(0.7075,0.4085,0,0.8154,976.08,491.09)" fill="none" stroke="#000" stroke-width="2.2" vector-effect="non-scaling-stroke"/>
<circle r="95.6" transform="matrix(0.7075,0.4085,0,0.8154,977,490.56)" fill="none" stroke="#000" stroke-width="2.2" vector-effect="non-scaling-stroke"/>
<circle r="94.3" transform="matrix(0.7075,0.4085,0,0.8154,977.99,489.99)" fill="none" stroke="#000" stroke-width="2.2" vector-effect="non-scaling-stroke"/>
<circle r="75.5" transform="matrix(0.7075,0.4085,0,0.8154,992.71,481.49)" fill="#fff" stroke="#000" stroke-width="2.4" vector-effect="non-scaling-stroke"/>
<circle r="77.1" transform="matrix(0.7075,0.4085,0,0.8154,999.43,477.61)" fill="none" stroke="#000" stroke-width="1.4" vector-effect="non-scaling-stroke"/>
<g clip-path="url(#inl1)">
<g transform="translate(0 0)" fill="none" stroke="#000" stroke-width="1.4" stroke-linejoin="round">
<path d="M950 422.2L977.5 436.3L991.9 445.6M950.6 429.2L964.4 445.6L982.5 443.8M964.1 410L964.1 428.6M974.2 412L977.5 435M975.9 412L979.1 435.6M996 428L991.3 440.6M998 430L986.3 452.5M977.5 436.3L991.3 440.9M966.9 446.3L975.6 469.6M980 445L985 458.8M952.2 475.3C952.32 475.92 952.35 477.05 952.9 479C953.45 480.95 954.22 483.92 955.5 487C956.78 490.08 958.6 494.08 960.6 497.5C962.6 500.92 965.1 504.38 967.5 507.5C969.9 510.62 972.4 513.12 975 516.25C977.6 519.38 980.97 523.75 983.1 526.25C985.23 528.75 985.65 529.38 987.8 531.25C989.95 533.12 992.92 535.73 996 537.5C999.08 539.27 1002.92 540.65 1006.25 541.9C1009.58 543.15 1012.88 544.27 1016 545C1019.12 545.73 1022.75 546.22 1025 546.25C1027.25 546.28 1028.25 545.83 1029.5 545.2C1030.75 544.58 1031.5 543.62 1032.5 542.5C1033.5 541.38 1034.67 539.96 1035.5 538.5C1036.33 537.04 1036.88 535.67 1037.5 533.75C1038.12 531.83 1038.88 529.08 1039.2 527C1039.52 524.92 1039.43 523.25 1039.4 521.25C1039.37 519.25 1039.22 517.08 1039 515C1038.78 512.92 1038.52 510.92 1038.1 508.75C1037.68 506.58 1037.12 503.98 1036.5 502C1035.88 500.02 1034.75 497.75 1034.4 496.9M950.4 420C950.32 422 949.95 428.28 949.9 432C949.85 435.72 949.88 438.97 950.1 442.3C950.32 445.63 950.75 448.88 951.2 452C951.65 455.12 951.8 457.63 952.8 461C953.8 464.37 956.47 470.33 957.2 472.2M952.2 475.3C955 473.5 958.8 472.2 963 471.2S972 469.9 977.5 469.7L986 469.7M952.2 475.6L958.8 485L966.3 492.5L977.5 501.3L994.4 510M966.3 492.5L975 506.9L988.1 521.6M1004.6 497.3C1001 501.5 996.5 507.5 993.8 511.3S989.4 520 988.1 527.5L988.4 530M988.4 530L1003.1 535.6L1018.8 540L1031.3 541.9M988.4 530L1009.4 539.6L1031.3 544.6M1015.6 540.4L1031.3 543.2M1032.2 542.4C1030 537 1028.6 531 1027.4 521.3S1027.3 508.8 1028.1 499.8M1028.1 498.6L1036 496.5"/>
</g>
<circle r="32.5" transform="matrix(0.7075,0.4085,0,0.8154,1010.47,471.23)" fill="none" stroke="#000" stroke-width="1.4" vector-effect="non-scaling-stroke"/>
<circle r="24.8" transform="matrix(0.7075,0.4085,0,0.8154,1004.1,474.91)" fill="#fff" stroke="#000" stroke-width="1.8" vector-effect="non-scaling-stroke"/>
<circle r="22.9" transform="matrix(0.7075,0.4085,0,0.8154,1003.32,475.36)" fill="none" stroke="#000" stroke-width="1.5" vector-effect="non-scaling-stroke"/>
</g></g>
<clipPath id="rim2"><circle r="104.5" transform="matrix(0.7075,0.4085,0,0.8154,1147.37,597.26)"/></clipPath>
<clipPath id="inl2"><circle r="75.5" transform="matrix(0.7075,0.4085,0,0.8154,1170.29,584.02)"/></clipPath>
<circle r="105" transform="matrix(0.7075,0.4085,0,0.8154,1147.37,597.26)" fill="#fff" stroke="#000" stroke-width="2" vector-effect="non-scaling-stroke"/>
<g clip-path="url(#rim2)">
<circle r="102" transform="matrix(0.7075,0.4085,0,0.8154,1149.92,595.79)" fill="none" stroke="#000" stroke-width="1.5" vector-effect="non-scaling-stroke"/>
<circle r="99.9" transform="matrix(0.7075,0.4085,0,0.8154,1151.4,594.93)" fill="none" stroke="#000" stroke-width="1" vector-effect="non-scaling-stroke"/>
<circle r="96.9" transform="matrix(0.7075,0.4085,0,0.8154,1153.67,593.62)" fill="none" stroke="#000" stroke-width="2.2" vector-effect="non-scaling-stroke"/>
<circle r="95.6" transform="matrix(0.7075,0.4085,0,0.8154,1154.59,593.09)" fill="none" stroke="#000" stroke-width="2.2" vector-effect="non-scaling-stroke"/>
<circle r="94.3" transform="matrix(0.7075,0.4085,0,0.8154,1155.58,592.52)" fill="none" stroke="#000" stroke-width="2.2" vector-effect="non-scaling-stroke"/>
<circle r="75.5" transform="matrix(0.7075,0.4085,0,0.8154,1170.29,584.02)" fill="#fff" stroke="#000" stroke-width="2.4" vector-effect="non-scaling-stroke"/>
<circle r="77.1" transform="matrix(0.7075,0.4085,0,0.8154,1177.01,580.14)" fill="none" stroke="#000" stroke-width="1.4" vector-effect="non-scaling-stroke"/>
<g clip-path="url(#inl2)">
<g transform="translate(177.58 102.53)" fill="none" stroke="#000" stroke-width="1.4" stroke-linejoin="round">
<path d="M950 422.2L977.5 436.3L991.9 445.6M950.6 429.2L964.4 445.6L982.5 443.8M964.1 410L964.1 428.6M974.2 412L977.5 435M975.9 412L979.1 435.6M996 428L991.3 440.6M998 430L986.3 452.5M977.5 436.3L991.3 440.9M966.9 446.3L975.6 469.6M980 445L985 458.8M952.2 475.3C952.32 475.92 952.35 477.05 952.9 479C953.45 480.95 954.22 483.92 955.5 487C956.78 490.08 958.6 494.08 960.6 497.5C962.6 500.92 965.1 504.38 967.5 507.5C969.9 510.62 972.4 513.12 975 516.25C977.6 519.38 980.97 523.75 983.1 526.25C985.23 528.75 985.65 529.38 987.8 531.25C989.95 533.12 992.92 535.73 996 537.5C999.08 539.27 1002.92 540.65 1006.25 541.9C1009.58 543.15 1012.88 544.27 1016 545C1019.12 545.73 1022.75 546.22 1025 546.25C1027.25 546.28 1028.25 545.83 1029.5 545.2C1030.75 544.58 1031.5 543.62 1032.5 542.5C1033.5 541.38 1034.67 539.96 1035.5 538.5C1036.33 537.04 1036.88 535.67 1037.5 533.75C1038.12 531.83 1038.88 529.08 1039.2 527C1039.52 524.92 1039.43 523.25 1039.4 521.25C1039.37 519.25 1039.22 517.08 1039 515C1038.78 512.92 1038.52 510.92 1038.1 508.75C1037.68 506.58 1037.12 503.98 1036.5 502C1035.88 500.02 1034.75 497.75 1034.4 496.9M950.4 420C950.32 422 949.95 428.28 949.9 432C949.85 435.72 949.88 438.97 950.1 442.3C950.32 445.63 950.75 448.88 951.2 452C951.65 455.12 951.8 457.63 952.8 461C953.8 464.37 956.47 470.33 957.2 472.2M952.2 475.3C955 473.5 958.8 472.2 963 471.2S972 469.9 977.5 469.7L986 469.7M952.2 475.6L958.8 485L966.3 492.5L977.5 501.3L994.4 510M966.3 492.5L975 506.9L988.1 521.6M1004.6 497.3C1001 501.5 996.5 507.5 993.8 511.3S989.4 520 988.1 527.5L988.4 530M988.4 530L1003.1 535.6L1018.8 540L1031.3 541.9M988.4 530L1009.4 539.6L1031.3 544.6M1015.6 540.4L1031.3 543.2M1032.2 542.4C1030 537 1028.6 531 1027.4 521.3S1027.3 508.8 1028.1 499.8M1028.1 498.6L1036 496.5"/>
</g>
<circle r="32.5" transform="matrix(0.7075,0.4085,0,0.8154,1188.05,573.77)" fill="none" stroke="#000" stroke-width="1.4" vector-effect="non-scaling-stroke"/>
<circle r="24.8" transform="matrix(0.7075,0.4085,0,0.8154,1181.68,577.44)" fill="#fff" stroke="#000" stroke-width="1.8" vector-effect="non-scaling-stroke"/>
<circle r="22.9" transform="matrix(0.7075,0.4085,0,0.8154,1180.9,577.89)" fill="none" stroke="#000" stroke-width="1.5" vector-effect="non-scaling-stroke"/>
</g></g>
<path d="M1071.3 717.9C1050 714.5 1033 709 1017.5 701.9S984 678 970.5 661" fill="none" stroke="#555" stroke-width="0.9"/>
<polygon points="961.9,651.3 968.6,667.6 976.6,662.6" fill="#000"/>
<text x="950" y="735.1" font-size="30.3" fill="#000" text-anchor="start" font-weight="normal" textLength="74.3" lengthAdjust="spacingAndGlyphs" stroke="#000" stroke-width="0.3">Motor</text>
<line x1="1262.6" y1="811.2" x2="1428" y2="715.4" stroke="#444" stroke-width="0.8"/>
<polygon points="1463.6,694.8 1425.2,712.4 1429.8,719.8" fill="#000"/>
<text transform="translate(1294.6 779.2) rotate(-30)" font-size="23.5" fill="#000" stroke="#000" stroke-width="0.35" textLength="96.5" lengthAdjust="spacingAndGlyphs">Luft /Air</text>
</g>
</svg>
</body></html>
